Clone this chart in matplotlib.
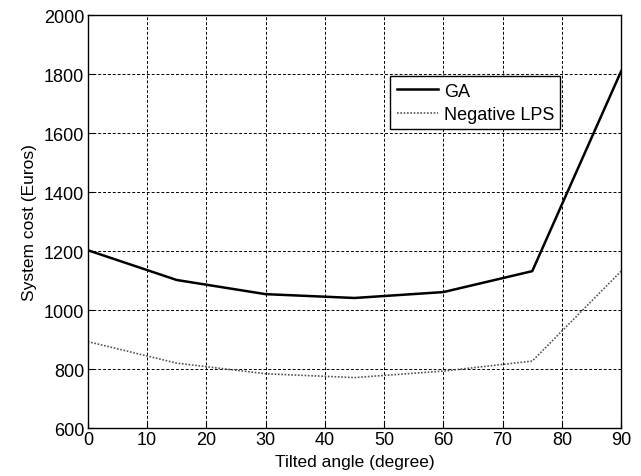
import matplotlib.pyplot as plt

# Daten
angle = [0, 15, 30, 45, 60, 75, 90]
cost_ga = [1203, 1102, 1054, 1041, 1061, 1132, 1810]
cost_lps = [893, 820, 784, 771, 793, 827, 1132]

plt.rcParams['font.family'] = ['Liberation Sans', 'DejaVu Sans']
plt.rcParams['font.size'] = 13

fig = plt.figure(figsize=(6.41, 4.77), dpi=100)
ax = fig.add_axes([0.137, 0.1006, 0.832, 0.8654])

ax.plot(angle, cost_ga, color="black", linewidth=1.8, label="GA")
ax.plot(angle, cost_lps, color="#555555", linewidth=1.2, linestyle=(0, (1, 1)), label="Negative LPS")

ax.set_xlim(0, 90)
ax.set_ylim(600, 2000)
ax.set_xticks(range(0, 91, 10))
ax.set_yticks(range(600, 2001, 200))
ax.grid(True, color="black", linestyle=(0, (3, 2)), linewidth=0.7)
ax.tick_params(direction="in", length=4, width=0.8, pad=2.5)
for s in ax.spines.values():
    s.set_linewidth(1.0)

ax.set_xlabel("Tilted angle (degree)", fontsize=12.5, labelpad=4)
ax.set_ylabel("System cost (Euros)", fontsize=12.5, labelpad=5)

leg = ax.legend(loc="upper right", bbox_to_anchor=(0.886, 0.852), fancybox=False,
                edgecolor="black", framealpha=1, borderaxespad=0, handlelength=2.3,
                handletextpad=0.3, borderpad=0.35, labelspacing=0.35)
leg.get_frame().set_linewidth(1.0)

fig.savefig("out.png", dpi=100)
